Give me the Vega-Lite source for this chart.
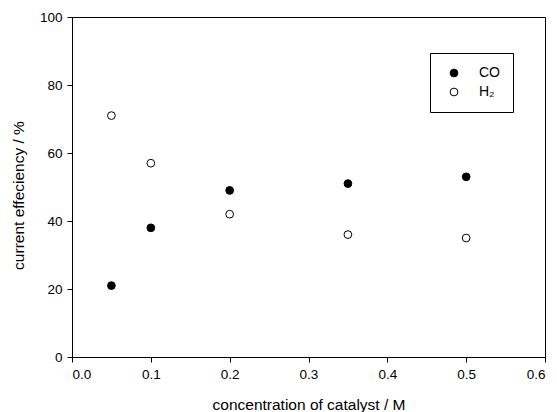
{
  "$schema": "https://vega.github.io/schema/vega-lite/v6.json",
  "autosize": {"type": "none"},
  "width": 473,
  "height": 340,
  "padding": {"left": 72, "top": 17, "right": 12, "bottom": 55},
  "background": "white",
  "config": {
    "font": "Liberation Sans",
    "view": {"stroke": "black", "strokeWidth": 1},
    "axis": {
      "grid": false,
      "domainColor": "black",
      "tickColor": "black",
      "labelColor": "black",
      "titleColor": "black",
      "labelFont": "Liberation Sans",
      "titleFont": "Liberation Sans",
      "labelFontSize": 13.5,
      "titleFontSize": 15.5,
      "titleFontWeight": "normal",
      "tickSize": 5,
      "labelPadding": 5
    }
  },
  "data": {
    "values": [
      {"conc": 0.05, "eff": 21, "gas": "CO"},
      {"conc": 0.1, "eff": 38, "gas": "CO"},
      {"conc": 0.2, "eff": 49, "gas": "CO"},
      {"conc": 0.35, "eff": 51, "gas": "CO"},
      {"conc": 0.5, "eff": 53, "gas": "CO"},
      {"conc": 0.05, "eff": 71, "gas": "H₂"},
      {"conc": 0.1, "eff": 57, "gas": "H₂"},
      {"conc": 0.2, "eff": 42, "gas": "H₂"},
      {"conc": 0.35, "eff": 36, "gas": "H₂"},
      {"conc": 0.5, "eff": 35, "gas": "H₂"}
    ]
  },
  "mark": {"type": "point", "filled": true, "stroke": "black", "strokeWidth": 1, "size": 60, "opacity": 1},
  "encoding": {
    "x": {
      "field": "conc", "type": "quantitative",
      "scale": {"domain": [0, 0.6], "nice": false},
      "axis": {"values": [0, 0.1, 0.2, 0.3, 0.4, 0.5, 0.6], "format": ".1f", "title": "concentration of catalyst / M", "titlePadding": 17}
    },
    "y": {
      "field": "eff", "type": "quantitative",
      "scale": {"domain": [0, 100], "nice": false},
      "axis": {"values": [0, 20, 40, 60, 80, 100], "title": "current effeciency / %", "titlePadding": 13, "titleY": 178}
    },
    "fill": {
      "field": "gas", "type": "nominal",
      "scale": {"domain": ["CO", "H₂"], "range": ["black", "white"]},
      "legend": {
        "title": null,
        "orient": "none",
        "legendX": 358,
        "legendY": 36,
        "strokeColor": "black",
        "fillColor": "white",
        "padding": 13,
        "symbolStrokeColor": "black",
        "symbolStrokeWidth": 1,
        "symbolSize": 60,
        "labelFontSize": 14,
        "labelFont": "Liberation Sans",
        "labelColor": "black",
        "rowPadding": 5,
        "labelOffset": 18,
        "symbolOffset": 4
      }
    }
  }
}
